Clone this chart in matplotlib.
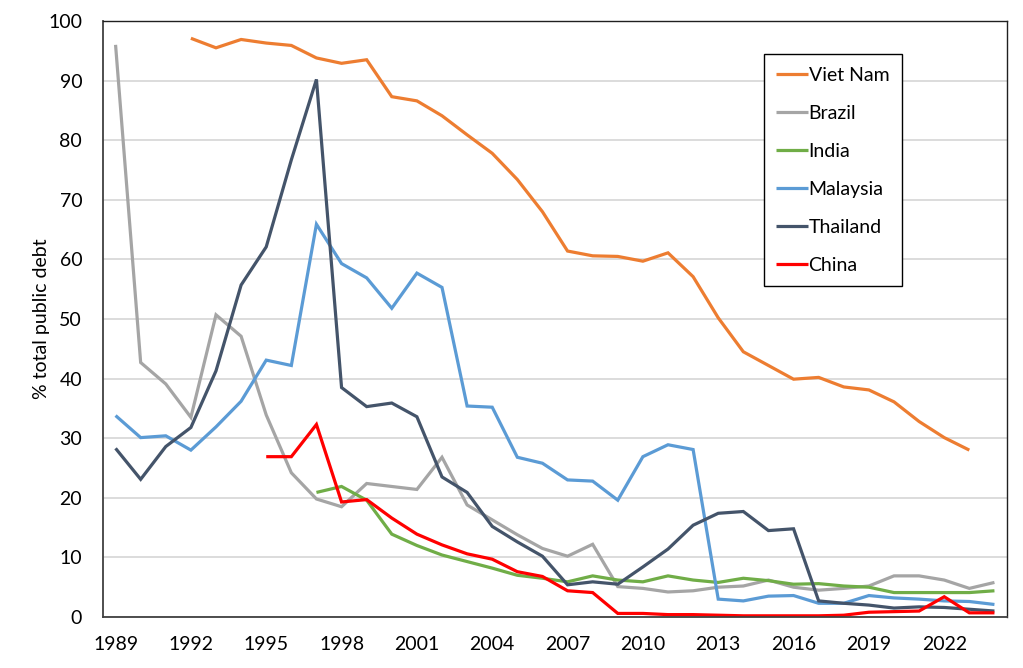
import numpy as np
import matplotlib
matplotlib.use("Agg")
import matplotlib.pyplot as plt

nan = np.nan
years = list(range(1989, 2025))

viet_nam = [nan, nan, nan, 97.1, 95.5, 96.9, 96.3, 95.9, 93.8, 92.9, 93.5, 87.3, 86.6,
            84.1, 80.9, 77.8, 73.4, 68.0, 61.4, 60.6, 60.5, 59.7, 61.1, 57.1, 50.2,
            44.5, 42.2, 39.9, 40.2, 38.6, 38.1, 36.1, 32.8, 30.1, 28.0, nan]
brazil = [96.0, 42.7, 39.1, 33.5, 50.7, 47.1, 33.9, 24.2, 19.8, 18.5, 22.4, 21.9, 21.4,
          26.8, 18.8, 16.3, 13.8, 11.5, 10.2, 12.2, 5.1, 4.8, 4.2, 4.4, 5.0,
          5.2, 6.2, 5.0, 4.5, 4.8, 5.2, 6.9, 6.9, 6.2, 4.8, 5.8]
india = [nan, nan, nan, nan, nan, nan, nan, nan, 20.9, 21.9, 19.6, 13.9, 12.0,
         10.4, 9.3, 8.2, 7.0, 6.5, 5.9, 6.9, 6.2, 5.9, 6.9, 6.2, 5.8,
         6.5, 6.1, 5.5, 5.6, 5.2, 5.0, 4.1, 4.1, 4.1, 4.1, 4.4]
malaysia = [33.8, 30.1, 30.4, 28.0, 31.9, 36.2, 43.1, 42.2, 65.9, 59.3, 56.9, 51.8, 57.7,
            55.3, 35.4, 35.2, 26.8, 25.8, 23.0, 22.8, 19.6, 26.9, 28.9, 28.1, 3.0,
            2.7, 3.5, 3.6, 2.3, 2.3, 3.6, 3.2, 3.0, 2.7, 2.6, 2.1]
thailand = [28.3, 23.1, 28.6, 31.8, 41.3, 55.7, 62.1, 76.7, 90.2, 38.5, 35.3, 35.9, 33.6,
            23.5, 20.9, 15.2, 12.6, 10.2, 5.4, 5.9, 5.5, 8.4, 11.4, 15.4, 17.4,
            17.7, 14.5, 14.8, 2.7, 2.3, 2.0, 1.5, 1.7, 1.6, 1.3, 1.0]
china = [nan, nan, nan, nan, nan, nan, 26.9, 26.9, 32.3, 19.3, 19.7, 16.6, 13.9,
         12.1, 10.6, 9.7, 7.6, 6.8, 4.4, 4.1, 0.6, 0.6, 0.4, 0.4, 0.3,
         0.2, 0.2, 0.2, 0.2, 0.3, 0.8, 0.9, 1.0, 3.4, 0.7, 0.7]

series = [("Viet Nam", viet_nam, "#ED7D31"),
          ("Brazil", brazil, "#A5A5A5"),
          ("India", india, "#70AD47"),
          ("Malaysia", malaysia, "#5B9BD5"),
          ("Thailand", thailand, "#44546A"),
          ("China", china, "#FF0000")]

xticks = list(range(1989, 2023, 3))
yticks = list(range(0, 101, 10))

plt.rcParams['font.family'] = ['Lato', 'DejaVu Sans']

fig = plt.figure(figsize=(10.23, 6.68), dpi=100)
ax = fig.add_axes([103/1023, 51/668, 904/1023, 596/668])

for name, vals, col in series:
    ax.plot(years, vals, color=col, lw=2.3, label=name, solid_joinstyle='miter',
            solid_capstyle='butt')

ax.set_xlim(1988.5, 2024.5)
ax.set_ylim(0, 100)
ax.set_xticks(xticks)
ax.set_yticks(yticks)
ax.tick_params(axis='both', length=0, labelsize=14, colors='black')
ax.tick_params(axis='y', pad=15)
ax.tick_params(axis='x', pad=14)
ax.yaxis.grid(True, color='#d9d9d9', lw=1.3)
ax.set_axisbelow(True)

for s in ['left', 'bottom']:
    ax.spines[s].set_color('#404040')
    ax.spines[s].set_linewidth(1.3)
for s in ['top', 'right']:
    ax.spines[s].set_color('#202020')
    ax.spines[s].set_linewidth(1.0)

ax.set_ylabel('% total public debt', fontsize=14)
ax.yaxis.set_label_coords(-0.0586, 0.5)

leg = ax.legend(loc='upper left', bbox_to_anchor=(0.731, 0.9446), fontsize=14,
                frameon=True, fancybox=False, edgecolor='black', framealpha=1,
                handlelength=1.6, handletextpad=0.05, labelspacing=1.08,
                borderpad=0.65, borderaxespad=0)
leg.get_frame().set_linewidth(1.0)

fig.savefig('out.png', dpi=100)
